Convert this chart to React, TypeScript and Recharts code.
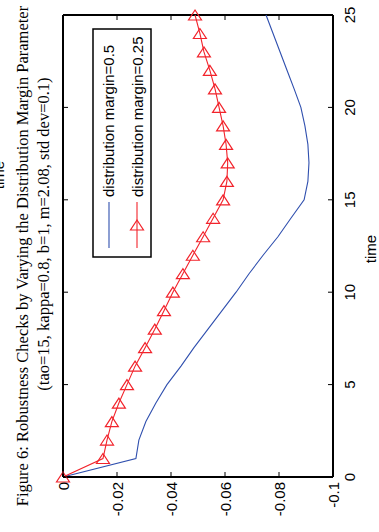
import React from 'react';
import { LineChart, Line, XAxis, YAxis, ReferenceLine } from 'recharts';

// ---- data ----
const times = [0, 1, 2, 3, 4, 5, 6, 7, 8, 9, 10, 11, 12, 13, 14, 15, 16, 17, 18, 19, 20, 21, 22, 23, 24, 25];
const margin05 = [0, -0.027, -0.0281, -0.0307, -0.0344, -0.0385, -0.0437, -0.0485, -0.0537, -0.0589, -0.0641, -0.0689, -0.0741, -0.0796, -0.0844, -0.0893, -0.0907, -0.0911, -0.0907, -0.0896, -0.0881, -0.0856, -0.083, -0.0804, -0.0778, -0.0752];
const margin025 = [0, -0.0148, -0.0163, -0.0181, -0.0207, -0.0237, -0.0267, -0.0304, -0.034, -0.0374, -0.0407, -0.0444, -0.0481, -0.0519, -0.0556, -0.0593, -0.0607, -0.061, -0.0604, -0.0593, -0.0578, -0.0563, -0.0544, -0.0522, -0.0507, -0.0489];
const timeTicks = [0, 5, 10, 15, 20, 25];
const timeTickLabels = ['0', '5', '10', '15', '20', '25'];
const valueTicks = [0, -0.02, -0.04, -0.06, -0.08, -0.1];
const valueTickLabels = ['0', '-0.02', '-0.04', '-0.06', '-0.08', '-0.1'];
const seriesNames = ['distribution margin=0.5', 'distribution margin=0.25'];
const titleLines = [
  'Figure 6: Robustness Checks by Varying the Distribution Margin Parameter',
  '(tao=15, kappa=0.8, b=1, m=2.08, std dev=0.1)',
];
const xLabel = 'time';
const strayLabel = 'time';

const data = times.map((t, i) => ({ t, a: margin05[i], b: margin025[i] }));

// ---- layout (unrotated frame) ----
const W = 532;
const H = 379;
const PL = 55;
const PR = 517;
const PT = 63;
const PB = 333;
const AX = 20; // axis band size
const BLUE = '#2f4fae';
const RED = '#f2232b';
const SANS = '"Liberation Sans", Arial, sans-serif';
const SERIF = '"Liberation Serif", "Times New Roman", serif';

const triPoints = (cx: number, cy: number) =>
  `${cx + 5},${cy} ${cx - 5},${cy - 6.5} ${cx - 5},${cy + 6.5}`;

const TimeTick = (props: any) => {
  const { x, payload } = props;
  const idx = timeTicks.indexOf(payload.value);
  return (
    <g>
      <line x1={x} y1={PB} x2={x} y2={PB - 5} stroke="#000" strokeWidth={1} />
      <line x1={x} y1={PT} x2={x} y2={PT + 5} stroke="#000" strokeWidth={1} />
      <text x={x} y={355} textAnchor="middle" fontFamily={SANS} fontSize={15} fill="#000">
        {timeTickLabels[idx]}
      </text>
    </g>
  );
};

const ValueTick = (props: any) => {
  const { y, payload } = props;
  const idx = valueTicks.findIndex((v) => Math.abs(v - payload.value) < 1e-9);
  return (
    <g>
      <line x1={PL} y1={y} x2={PL + 5} y2={y} stroke="#000" strokeWidth={1} />
      <line x1={PR} y1={y} x2={PR - 5} y2={y} stroke="#000" strokeWidth={1} />
      <text x={50} y={y + 5.5} textAnchor="end" fontFamily={SANS} fontSize={15} fill="#000">
        {valueTickLabels[idx]}
      </text>
    </g>
  );
};

const TriDot = (props: any) => {
  const { cx, cy, index } = props;
  if (cx == null || cy == null) return <g key={`d${index}`} />;
  return (
    <polygon key={`d${index}`} points={triPoints(cx, cy)} fill="none" stroke={RED} strokeWidth={1.2} />
  );
};

export default function App() {
  return (
    <div style={{ position: 'absolute', left: 0, top: 0, width: 379, height: 532, overflow: 'hidden', background: '#fff' }}>
      <div
        style={{
          position: 'absolute',
          left: 0,
          top: 0,
          width: W,
          height: H,
          transformOrigin: '0 0',
          transform: `translate(0px, ${W}px) rotate(-90deg)`,
        }}
      >
        <LineChart
          width={W}
          height={H}
          data={data}
          margin={{ top: PT, right: W - PR, bottom: H - PB - AX, left: PL - AX }}
        >
          <XAxis
            dataKey="t"
            type="number"
            domain={[0, 25]}
            ticks={timeTicks}
            height={AX}
            tickLine={false}
            tickSize={0}
            tick={<TimeTick />}
            axisLine={{ stroke: '#000', strokeWidth: 2 }}
            interval={0}
          />
          <YAxis
            type="number"
            domain={[-0.1, 0]}
            ticks={valueTicks}
            width={AX}
            tickLine={false}
            tickSize={0}
            tick={<ValueTick />}
            axisLine={{ stroke: '#000', strokeWidth: 2 }}
            interval={0}
          />
          <ReferenceLine y={0} stroke="#000" strokeWidth={2} />
          <ReferenceLine x={25} stroke="#000" strokeWidth={2} />
          <Line
            dataKey="a"
            name={seriesNames[0]}
            stroke={BLUE}
            strokeWidth={1.1}
            dot={false}
            isAnimationActive={false}
            type="linear"
          />
          <Line
            dataKey="b"
            name={seriesNames[1]}
            stroke={RED}
            strokeWidth={1.1}
            dot={<TriDot />}
            isAnimationActive={false}
            type="linear"
          />
        </LineChart>
        <svg
          width={W}
          height={H}
          style={{ position: 'absolute', left: 0, top: 0, overflow: 'visible', pointerEvents: 'none' }}
        >
          <text x={357} y={4} textAnchor="middle" fontFamily={SANS} fontSize={15} fill="#000">
            {strayLabel}
          </text>
          <text x={276} y={27.5} textAnchor="middle" fontFamily={SERIF} fontSize={16.5} fill="#000">
            {titleLines[0]}
          </text>
          <text x={298} y={49} textAnchor="middle" fontFamily={SERIF} fontSize={16.5} fill="#000">
            {titleLines[1]}
          </text>
          <text x={283} y={376} textAnchor="middle" fontFamily={SANS} fontSize={15} fill="#000">
            {xLabel}
          </text>
          <rect x={275} y={93} width={228} height={58} fill="#fff" stroke="#000" strokeWidth={1.5} />
          <line x1={284} y1={109} x2={330} y2={109} stroke={BLUE} strokeWidth={1.1} />
          <text x={335} y={114} fontFamily={SANS} fontSize={15} fill="#000">
            {seriesNames[0]}
          </text>
          <line x1={284} y1={137} x2={330} y2={137} stroke={RED} strokeWidth={1.1} />
          <polygon points={triPoints(307, 137)} fill="none" stroke={RED} strokeWidth={1.2} />
          <text x={335} y={143} fontFamily={SANS} fontSize={15} fill="#000">
            {seriesNames[1]}
          </text>
        </svg>
      </div>
    </div>
  );
}
